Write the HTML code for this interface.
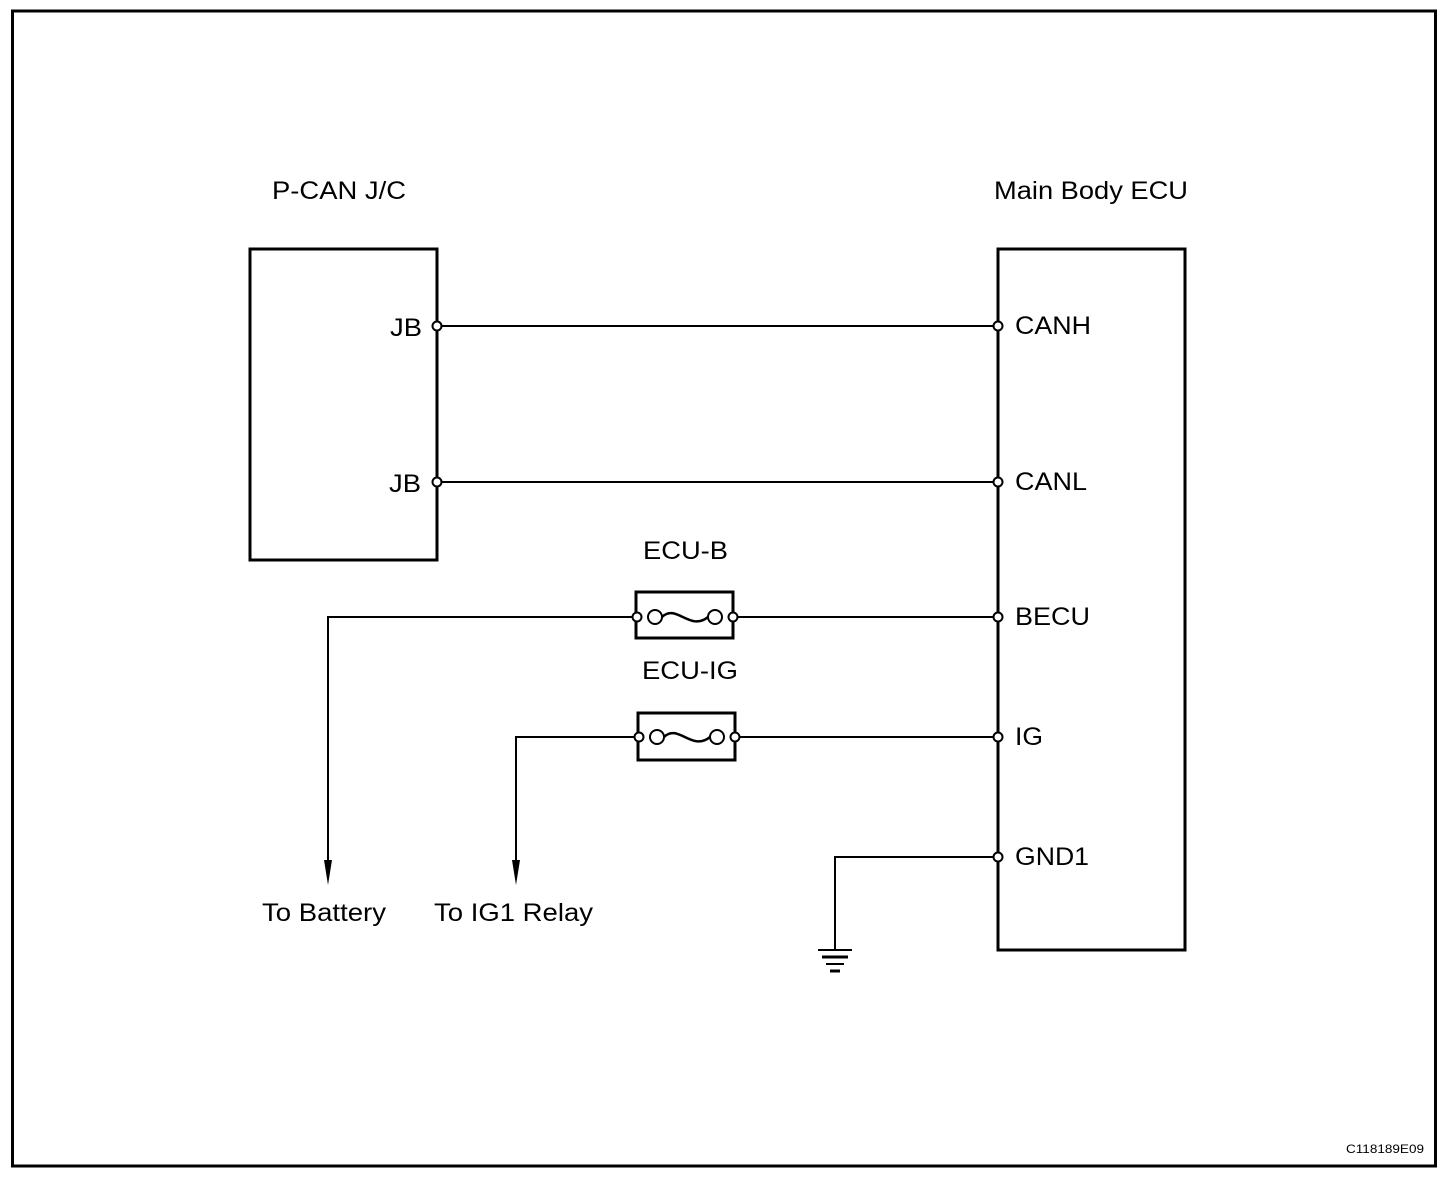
<!DOCTYPE html>
<html><head><meta charset="utf-8"><style>
html,body{margin:0;padding:0;background:#fff;}
svg{display:block;}
text{font-family:"Liberation Sans",Arial,sans-serif;fill:#000;}
</style></head><body>
<svg width="1456" height="1186" viewBox="0 0 1456 1186" xmlns="http://www.w3.org/2000/svg">
<rect x="12.5" y="11" width="1423" height="1155" fill="none" stroke="#000" stroke-width="3"/>
<g font-size="25" lengthAdjust="spacingAndGlyphs">
<text x="272" y="199" textLength="134" lengthAdjust="spacingAndGlyphs">P-CAN J/C</text>
<text x="994" y="199" textLength="194" lengthAdjust="spacingAndGlyphs">Main Body ECU</text>
<text x="390" y="336" textLength="32" lengthAdjust="spacingAndGlyphs">JB</text>
<text x="389" y="492" textLength="32" lengthAdjust="spacingAndGlyphs">JB</text>
<text x="1015" y="334" textLength="76" lengthAdjust="spacingAndGlyphs">CANH</text>
<text x="1015" y="490" textLength="72" lengthAdjust="spacingAndGlyphs">CANL</text>
<text x="1015" y="625" textLength="75" lengthAdjust="spacingAndGlyphs">BECU</text>
<text x="1015" y="745" textLength="28" lengthAdjust="spacingAndGlyphs">IG</text>
<text x="1015" y="865" textLength="74" lengthAdjust="spacingAndGlyphs">GND1</text>
<text x="643" y="559" textLength="85" lengthAdjust="spacingAndGlyphs">ECU-B</text>
<text x="642" y="679" textLength="96" lengthAdjust="spacingAndGlyphs">ECU-IG</text>
<text x="262" y="921" textLength="124" lengthAdjust="spacingAndGlyphs">To Battery</text>
<text x="434" y="921" textLength="159" lengthAdjust="spacingAndGlyphs">To IG1 Relay</text>
</g>
<rect x="250" y="249" width="187" height="311" fill="none" stroke="#000" stroke-width="3"/>
<rect x="998" y="249" width="187" height="701" fill="none" stroke="#000" stroke-width="3"/>
<g stroke="#000" stroke-width="2" fill="none">
<line x1="437" y1="326" x2="998" y2="326"/>
<line x1="437" y1="482" x2="998" y2="482"/>
<polyline points="998,617 733,617"/>
<polyline points="637,617 328,617 328,862"/>
<polyline points="998,737 735,737"/>
<polyline points="637,737 516,737 516,862"/>
<polyline points="998,857 835,857 835,950"/>
<line x1="818" y1="950" x2="852" y2="950"/>
<line x1="822" y1="957" x2="848" y2="957" stroke-width="3"/>
<line x1="826" y1="964" x2="844" y2="964" stroke-width="2"/>
<line x1="830" y1="971" x2="840" y2="971" stroke-width="3"/>
</g>
<polygon points="324,860 332,860 328,885" fill="#000"/>
<polygon points="512,860 520,860 516,885" fill="#000"/>
<g fill="none" stroke="#000">
<rect x="636" y="592" width="97" height="46" stroke-width="3"/>
<rect x="638" y="713" width="97" height="47" stroke-width="3"/>
<path d="M662,617 C676,603 690,632 708,617" stroke-width="2.5"/>
<path d="M664,737 C678,723 692,752 710,737" stroke-width="2.5"/>
</g>
<g fill="#fff" stroke="#000" stroke-width="2">
<circle cx="437" cy="326" r="4.5"/>
<circle cx="437" cy="482" r="4.5"/>
<circle cx="998" cy="326" r="4.5"/>
<circle cx="998" cy="482" r="4.5"/>
<circle cx="998" cy="617" r="4.5"/>
<circle cx="998" cy="737" r="4.5"/>
<circle cx="998" cy="857" r="4.5"/>
<circle cx="637" cy="617" r="4.5"/>
<circle cx="655" cy="617" r="7"/>
<circle cx="715" cy="617" r="7"/>
<circle cx="733" cy="617" r="4.5"/>
<circle cx="639" cy="737" r="4.5"/>
<circle cx="657" cy="737" r="7"/>
<circle cx="717" cy="737" r="7"/>
<circle cx="735" cy="737" r="4.5"/>
</g>
<text x="1346" y="1153" font-size="12" textLength="78" lengthAdjust="spacingAndGlyphs">C118189E09</text>
</svg>
</body></html>
